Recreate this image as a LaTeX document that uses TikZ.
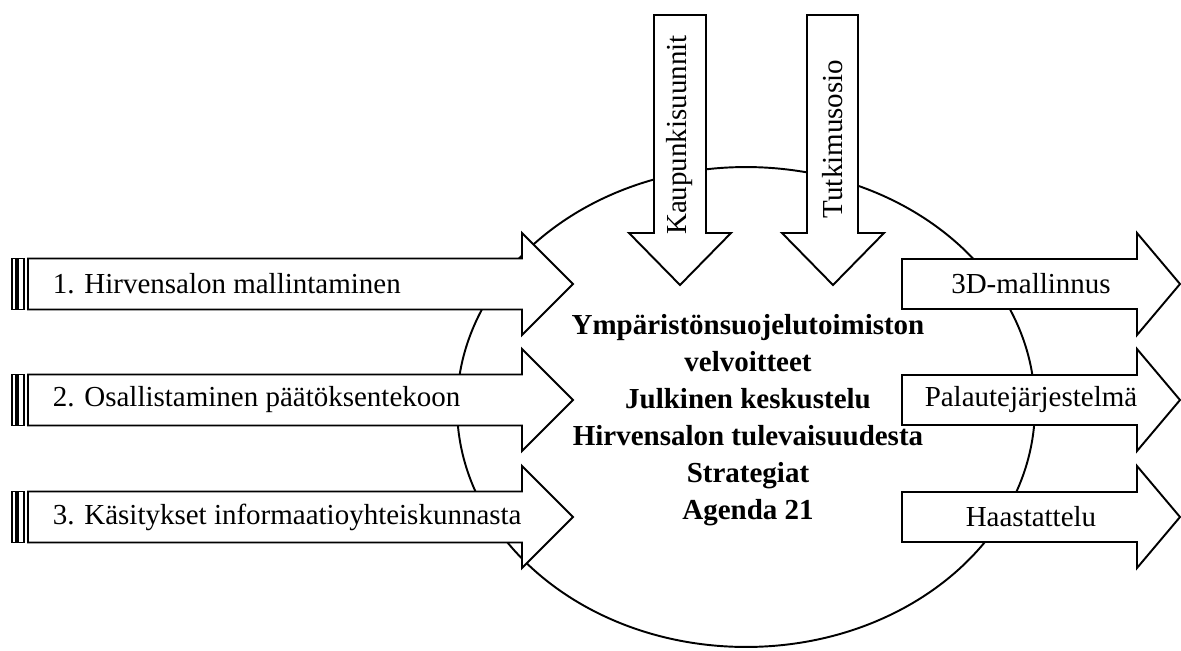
\documentclass[tikz,border=0pt]{standalone}
\usepackage{fontspec}
\setmainfont{Liberation Serif}

\begin{document}
\begin{tikzpicture}[x=0.02cm, y=-0.02cm, line width=1.1pt,
				   every node/.style={font=\fontsize{16.5}{21}\selectfont, inner sep=0pt},
				   blockarrow/.style={draw=black, fill=white, line join=miter},
				   tailbar/.style={draw=black, fill=white, line width=0.9pt},
				   goal/.style={font=\fontsize{16.5}{21}\selectfont\bfseries, align=center}]
\useasboundingbox (0,0) rectangle (1181,650);
\draw (746,407) ellipse [x radius=5.78cm, y radius=4.8cm];

% left arrows
\draw[tailbar] (12,258.5) rectangle (16,309.5);
\draw[tailbar] (18,258.5) rectangle (24,309.5);
\draw[blockarrow] (28,258.5) -- (522,258.5) -- (522,233) -- (573,284) -- (522,335) -- (522,309.5) -- (28,309.5) -- cycle;
\draw[tailbar] (12,374.5) rectangle (16,425.5);
\draw[tailbar] (18,374.5) rectangle (24,425.5);
\draw[blockarrow] (28,374.5) -- (522,374.5) -- (522,349) -- (573,400) -- (522,451) -- (522,425.5) -- (28,425.5) -- cycle;
\draw[tailbar] (12,491.5) rectangle (16,542.5);
\draw[tailbar] (18,491.5) rectangle (24,542.5);
\draw[blockarrow] (28,491.5) -- (522,491.5) -- (522,466) -- (573,517) -- (522,568) -- (522,542.5) -- (28,542.5) -- cycle;
\node[anchor=west] (L1) at (52,284) {1. Hirvensalon mallintaminen};
\node[anchor=west] (L2) at (52,400) {2. Osallistaminen päätöksentekoon};
\node[anchor=west] (L3) at (52,517) {3. Käsitykset informaatioyhteiskunnasta};

% top arrows
\draw[blockarrow] (654,15) -- (706,15) -- (706,233) -- (731,233) -- (680,285) -- (629,233) -- (654,233) -- cycle;
\draw[blockarrow] (807,15) -- (858,15) -- (858,233) -- (884,233) -- (833,285) -- (782,233) -- (807,233) -- cycle;
\node[rotate=90] (T1) at (680,135) {Kaupunkisuunnit};
\node[rotate=90] (T2) at (833,139) {Tutkimusosio};

% right arrows
\draw[blockarrow] (902,259) -- (1137,259) -- (1137,233) -- (1180,284) -- (1137,335) -- (1137,309) -- (902,309) -- cycle;
\draw[blockarrow] (902,375) -- (1137,375) -- (1137,349) -- (1180,400) -- (1137,451) -- (1137,425) -- (902,425) -- cycle;
\draw[blockarrow] (902,492) -- (1137,492) -- (1137,466) -- (1180,517) -- (1137,568) -- (1137,542) -- (902,542) -- cycle;
\node (R1) at (1031,284) {3D-mallinnus};
\node (R2) at (1031,400) {Palautejärjestelmä};
\node (R3) at (1031,517) {Haastattelu};

\node[goal] (C) at (748,420) {Ympäristönsuojelutoimiston\\velvoitteet\\Julkinen keskustelu\\Hirvensalon tulevaisuudesta\\Strategiat\\Agenda 21};
\end{tikzpicture}
\end{document}
